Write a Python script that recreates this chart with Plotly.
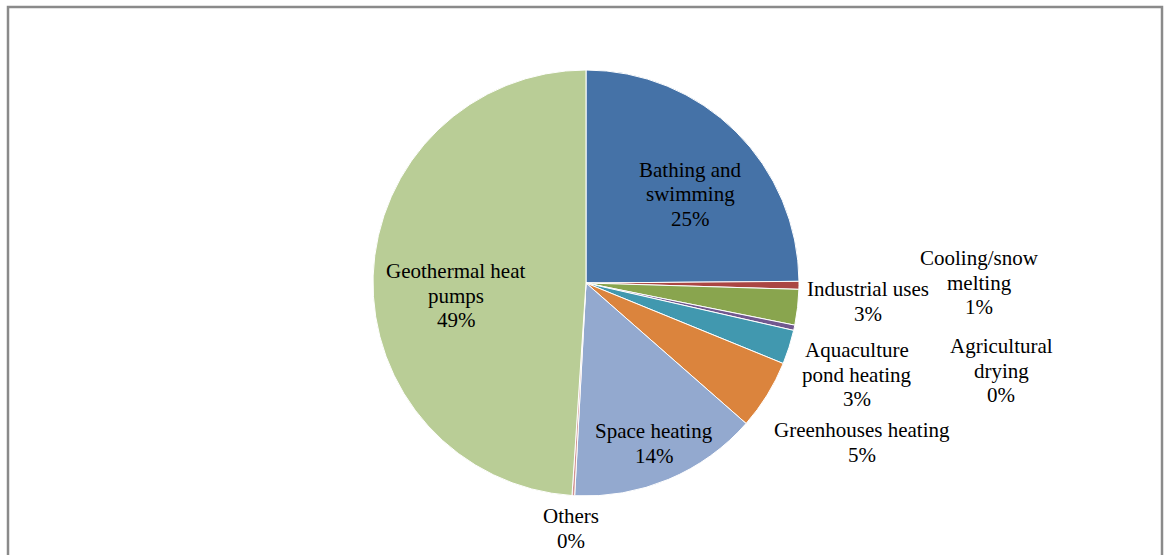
import plotly.graph_objects as go

W, H = 1169, 555

categories = ["Bathing and swimming", "Cooling/snow melting", "Industrial uses",
              "Agricultural drying", "Aquaculture pond heating", "Greenhouses heating",
              "Space heating", "Others", "Geothermal heat pumps"]
values = [24.9, 0.6, 2.7, 0.4, 2.6, 5.3, 14.4, 0.2, 49.0]
label_wraps = ["Bathing and\nswimming", "Cooling/snow\nmelting", "Industrial uses",
               "Agricultural\ndrying", "Aquaculture\npond heating", "Greenhouses heating",
               "Space heating", "Others", "Geothermal heat\npumps"]
colors = ["#4572A7", "#AA4643", "#89A54E", "#71588F", "#4198AF",
          "#DB843D", "#93A9CF", "#D19392", "#B9CD96"]

# label placement (pixel centre x, first-line baseline y) - styling only
label_pos = [(690, 177), (979, 265), (868, 296), (1001, 353), (857, 357),
             (862, 437), (654, 438), (571, 523), (456, 278)]
LINE_GAP = 24.5
FONT = "Liberation Serif, Times New Roman, serif"
FS = 21

cx, cy, r = 586, 283, 213

fig = go.Figure(go.Pie(
    labels=categories, values=values, sort=False, direction="clockwise", rotation=0,
    marker=dict(colors=colors, line=dict(color="white", width=1)),
    textinfo="none", hoverinfo="label+percent", showlegend=False,
    domain=dict(x=[(cx - r) / W, (cx + r) / W], y=[1 - (cy + r) / H, 1 - (cy - r) / H]),
))

total = sum(values)
annotations = []
for name, v, (px, py) in zip(label_wraps, values, label_pos):
    lines = name.split("\n") + [f"{round(v / total * 100)}%"]
    for i, ln in enumerate(lines):
        base = py + i * LINE_GAP
        annotations.append(dict(
            text=ln, x=px / W, y=1 - (base - 7) / H, xref="paper", yref="paper",
            xanchor="center", yanchor="middle", showarrow=False,
            font=dict(family=FONT, size=FS, color="#000000"),
        ))

fig.update_layout(
    width=W, height=H, margin=dict(l=0, r=0, t=0, b=0),
    paper_bgcolor="white", plot_bgcolor="white",
    annotations=annotations,
    shapes=[dict(type="rect", xref="paper", yref="paper",
                 x0=8 / W, x1=1162 / W, y0=-0.05, y1=1 - 7 / H,
                 line=dict(color="#8a8a8a", width=2.5), fillcolor="rgba(0,0,0,0)")],
)

fig.write_html("out.html")
